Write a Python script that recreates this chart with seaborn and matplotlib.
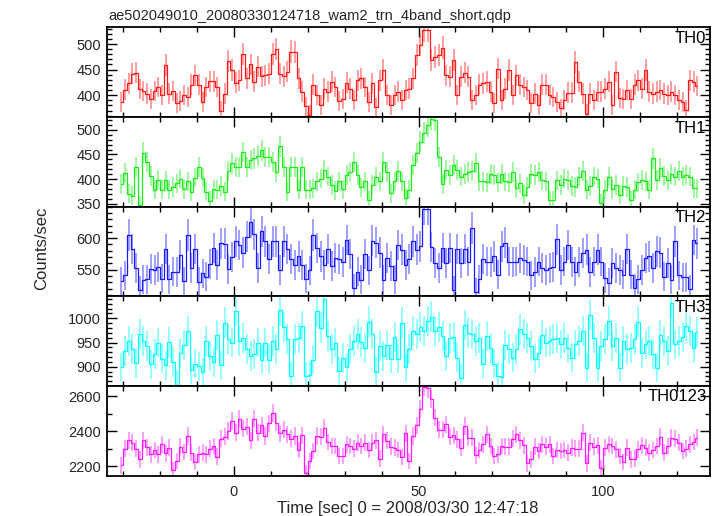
import numpy as np
import pandas as pd
import seaborn as sns
import matplotlib.pyplot as plt
from matplotlib.ticker import MultipleLocator, FixedLocator

sns.set_theme(style="white")
plt.rcParams['font.family'] = ['Liberation Sans', 'DejaVu Sans']

title = "ae502049010_20080330124718_wam2_trn_4band_short.qdp"
xlabel = "Time [sec] 0 = 2008/03/30 12:47:18"
ylabel = "Counts/sec"

# 1 s bins, first bin edge at -31 s
t_start = -31

th0 = [387, 411, 423, 442, 444, 412, 408, 403, 393, 408,
       416, 400, 459, 403, 408, 384, 388, 400, 397, 420,
       439, 420, 387, 416, 427, 427, 416, 369, 403, 467,
       449, 424, 429, 480, 433, 460, 426, 456, 437, 439,
       442, 480, 490, 442, 437, 446, 485, 484, 433, 407,
       378, 361,
       420, 400, 380, 413, 407, 426, 416, 388, 393, 424,
       413, 390, 429, 433, 416, 387, 423, 376, 429, 450,
       400, 380, 400, 407, 390, 410, 413, 433, 478, 498,
       527, 527, 469, 475, 478, 493, 439, 436, 469, 400,
       436, 444, 436, 390, 400, 420, 423, 426, 407, 384,
       452, 390, 413, 449,
       400, 439, 420, 416, 410, 384, 403, 380, 420, 420,
       400, 397, 387, 374, 390, 405, 405, 465, 426, 403,
       364, 403, 390, 407, 407, 413, 426, 380, 446, 395,
       393, 410, 393, 420, 429, 413, 449, 407, 403, 407,
       410, 403, 400, 407, 400, 390, 387, 371, 429, 426,
       418]

th1 = [390, 413, 370, 366, 425, 347, 454, 435, 406, 378,
       398, 378, 397, 378, 384, 391, 401, 379, 395, 374,
       403, 424, 403, 374, 356, 379, 378, 386, 374, 416,
       432, 424, 424, 455, 425, 439, 442, 447, 459, 445,
       445, 435, 414, 467, 425, 374, 424, 424, 378, 424,
       378, 378,
       381, 395, 401, 418, 405, 388, 376, 395, 379, 409,
       415, 435, 409, 383, 395, 357, 388, 405, 395, 435,
       415, 371, 395, 416, 395, 361, 378, 428, 453, 476,
       493, 509, 523, 521, 445, 390, 418, 408, 428, 418,
       405, 410, 415, 416, 433, 395, 395, 393, 411, 408,
       393, 411, 395, 393,
       415, 381, 391, 368, 384, 410, 408, 415, 397, 395,
       357, 357, 397, 388, 401, 398, 386, 384, 405, 416,
       378, 386, 405, 401, 351, 378, 405, 379, 388, 368,
       386, 384, 357, 378, 393, 398, 395, 378, 442, 398,
       422, 406, 397, 411, 405, 417, 405, 409, 405, 381,
       381]

th2 = [532, 541, 605, 583, 553, 518, 534, 535, 551, 550,
       554, 536, 583, 535, 547, 546, 573, 532, 605, 553,
       583, 531, 544, 539, 559, 584, 557, 592, 591, 551,
       570, 595, 589, 577, 602, 625, 606, 553, 611, 595,
       567, 595, 595, 550, 595, 583, 567, 558, 571, 557,
       536, 549, 605, 584, 571, 557, 583, 556, 568, 567,
       562, 597, 575, 521, 547, 534, 575, 549, 596, 593,
       577, 534, 568, 556, 534, 589, 582, 558, 567,
       595, 582, 587, 646, 646, 586, 561, 553, 584, 561,
       584, 518, 583, 561, 583, 563, 616, 514, 535, 567,
       563, 562, 571, 542, 587, 593, 563, 562, 563, 568,
       565, 563, 541, 546, 563, 553, 550, 553, 554, 598,
       550, 563, 589, 562, 547, 562, 576, 582, 546, 563,
       582, 563, 537, 529, 561, 553, 550, 542, 583, 542,
       521, 535, 550, 568, 571, 553, 579, 577, 539, 561,
       534, 595, 541, 538, 538, 519, 597, 592]

th3 = [899, 932, 953, 936, 908, 967, 953, 943, 905, 926,
       950, 917, 903, 952, 910, 863, 929, 945, 974, 894,
       906, 901, 889, 953, 922, 910, 966, 903, 991, 957,
       950, 1015, 953, 959, 936, 922, 926, 950, 915, 950,
       915, 954, 936, 1017, 982, 957, 881, 957, 960, 984,
       881, 883, 915, 1014, 981, 1039, 963, 936, 950, 891,
       919, 899, 936, 953, 967, 952, 939, 993, 967, 890,
       943, 922, 945, 917, 961, 917, 991, 899, 936,
       974, 967, 982, 974, 994, 1003, 974, 982, 963, 922,
       959, 961, 919, 877, 986, 970, 968, 953, 960, 906,
       963, 939, 906, 881, 879, 945, 936, 919, 936, 977,
       967, 960, 943, 917, 929, 966, 950, 953, 957, 960,
       946, 959, 938, 919, 946, 953, 974, 898, 1007, 960,
       898, 943, 957, 994, 943, 960, 898, 953, 936, 939,
       957, 993, 929, 946, 953, 926, 898, 966, 953, 932,
       1032, 946, 953, 961, 984, 974, 939, 972]

th0123 = [2206, 2301, 2350, 2335, 2301, 2240, 2350, 2310, 2269, 2293,
          2269, 2326, 2274, 2307, 2179, 2230, 2312, 2282, 2373, 2278,
          2225, 2269, 2278, 2269, 2301, 2316, 2255, 2358, 2370, 2402,
          2459, 2392, 2472, 2415, 2427, 2350, 2472, 2392, 2434, 2373,
          2446, 2503, 2450, 2389, 2408, 2383, 2358, 2373, 2293, 2377,
          2164, 2230, 2288, 2373, 2370, 2421, 2339, 2316, 2316, 2259,
          2259, 2326, 2316, 2301, 2335, 2316, 2335, 2293, 2335, 2350,
          2244, 2383, 2345, 2312, 2307, 2293, 2253, 2389, 2230,
          2373, 2434, 2528, 2650, 2644, 2583, 2478, 2408, 2408, 2440,
          2370, 2377, 2354, 2307, 2430, 2364, 2364, 2263, 2293, 2326,
          2383, 2316, 2259, 2269, 2316, 2312, 2312, 2358, 2383, 2350,
          2320, 2217, 2240, 2312, 2288, 2326, 2312, 2326, 2259, 2293,
          2288, 2293, 2278, 2307, 2301, 2301, 2392, 2217, 2335, 2312,
          2320, 2192, 2307, 2326, 2316, 2297, 2259, 2225, 2307, 2240,
          2244, 2297, 2320, 2307, 2278, 2293, 2316, 2370, 2278, 2316,
          2364, 2358, 2335, 2288, 2301, 2326, 2339, 2364]

band_names = ["TH0", "TH1", "TH2", "TH3", "TH0123"]
band_rates = [th0, th1, th2, th3, th0123]
band_colors = ["#ff1a1a", "#1aee1a", "#1a1aff", "#00ffff", "#ff1aff"]
y_ranges = [(357.5, 532.7), (343.9, 526.4), (508, 650), (860.7, 1045.5), (2148, 2659)]
y_major = [[400, 450, 500], [350, 400, 450, 500], [550, 600], [900, 950, 1000], [2200, 2400, 2600]]
y_minor = [10, 10, 10, 10, 100]

fig, axes = plt.subplots(5, 1, sharex=True, figsize=(7.17, 5.16), dpi=100)
fig.subplots_adjust(left=106.5 / 717, right=709.5 / 717,
                    top=1 - 27.3 / 516, bottom=1 - 475.5 / 516, hspace=0)

for ax, name, rates, col, yr, ymaj, ymin in zip(axes, band_names, band_rates,
                                                band_colors, y_ranges, y_major, y_minor):
    df = pd.DataFrame({"time": t_start + 0.5 + np.arange(len(rates)), "rate": rates})
    df["err"] = np.sqrt(df["rate"])   # poisson error for 1 s bins

    ax.vlines(df["time"], df["rate"] - df["err"], df["rate"] + df["err"],
              color=col, alpha=0.45, lw=1.3)
    sns.lineplot(data=df, x="time", y="rate", drawstyle="steps-mid", color=col,
                 lw=0.9, ax=ax, estimator=None, sort=False)

    ax.set_ylim(*yr)
    ax.set_xlim(-34.5, 128.8)
    ax.yaxis.set_major_locator(FixedLocator(ymaj))
    ax.yaxis.set_minor_locator(MultipleLocator(ymin))
    ax.xaxis.set_major_locator(MultipleLocator(50))
    ax.xaxis.set_minor_locator(MultipleLocator(10))
    ax.tick_params(which="both", direction="in", top=True, right=True,
                   bottom=True, left=True, color="black", width=1)
    ax.tick_params(which="major", length=7, labelsize=10.5, pad=4)
    ax.tick_params(which="minor", length=3.5)
    ax.tick_params(axis="x", pad=7)
    for s in ax.spines.values():
        s.set_color("black")
        s.set_linewidth(1.3)
    ax.set_xlabel("")
    ax.set_ylabel("")
    ax.text(0.995, 0.96, name, transform=ax.transAxes, ha="right", va="top",
            fontsize=12, color="black")

fig.text(108 / 717, 1 - 20 / 516, title, fontsize=10.5, ha="left", va="baseline",
         family=['Liberation Sans Narrow', 'Liberation Sans'])
fig.text(42 / 717, 1 - 248 / 516, ylabel, fontsize=12, rotation=90,
         ha="center", va="center")
fig.text(408 / 717, 1 - 508 / 516, xlabel, fontsize=12, ha="center", va="center")

plt.savefig("out.png", dpi=100)
